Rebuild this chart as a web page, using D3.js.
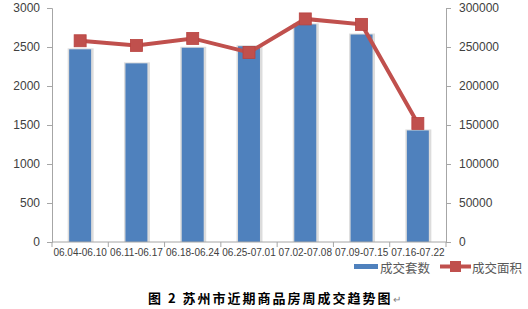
<!DOCTYPE html>
<html><head><meta charset="utf-8">
<script src="https://cdn.jsdelivr.net/npm/d3@7"></script>
<style>body{margin:0;background:#fff}svg{display:block}</style>
</head><body>
<svg id="c" width="528" height="309"></svg>
<script>
const categories = ["06.04-06.10","06.11-06.17","06.18-06.24","06.25-07.01","07.02-07.08","07.09-07.15","07.16-07.22"];
const units = [2470, 2290, 2490, 2510, 2790, 2660, 1430];      // 成交套数
const area = [258000, 252000, 261000, 243000, 286000, 279000, 152000]; // 成交面积
const leftTicks = [0,500,1000,1500,2000,2500,3000];
const rightTicks = [0,50000,100000,150000,200000,250000,300000];
const seriesNames = ["成交套数","成交面积"];
const title = "图 2 苏州市近期商品房周成交趋势图";

const svg = d3.select("#c");
const L = 52, R = 446, T = 8, B = 242;
const x = d3.scaleBand().domain(categories).range([L, R]).paddingInner(0.61).paddingOuter(0.305);
const yL = d3.scaleLinear().domain([0,3000]).range([B, T]);
const yR = d3.scaleLinear().domain([0,300000]).range([B, T]);
const axisCol = "#a6a6a6", txtCol = "#404040";
const blue = "#4f81bd", red = "#c0504d";

// bars with light shadow
svg.append("g").selectAll("rect").data(units).join("rect")
  .attr("x", (d,i)=>x(categories[i])-1.5).attr("width", x.bandwidth()+4)
  .attr("y", d=>yL(d)-1).attr("height", d=>B-yL(d)+1).attr("fill","#dcdcdc");
svg.append("g").selectAll("rect").data(units).join("rect")
  .attr("x", (d,i)=>x(categories[i])).attr("width", x.bandwidth())
  .attr("y", d=>yL(d)).attr("height", d=>B-yL(d)).attr("fill", blue);

// left axis
const gl = svg.append("g").attr("transform",`translate(${L},0)`)
  .call(d3.axisLeft(yL).tickValues(leftTicks).tickSize(5).tickPadding(7).tickFormat(d3.format("d")));
// right axis
const gr = svg.append("g").attr("transform",`translate(${R},0)`)
  .call(d3.axisRight(yR).tickValues(rightTicks).tickSize(5).tickPadding(8).tickFormat(d3.format("d")));
[gl,gr].forEach(g=>{
  g.selectAll("path,line").attr("stroke",axisCol);
  g.selectAll("text").attr("fill",txtCol).style("font-family","Liberation Sans, Arial, sans-serif").style("font-size","12px");
});
// bottom axis
const gb = svg.append("g").attr("transform",`translate(0,${B})`)
  .call(d3.axisBottom(x).tickSize(0).tickPadding(7));
gb.select("path").attr("stroke",axisCol).attr("d",`M${L},0H${R}`);
gb.selectAll("text").attr("fill",txtCol).style("font-family","Liberation Sans, Arial, sans-serif").style("font-size","10px");
const bounds = d3.range(categories.length+1).map(i=>L + i*x.step());
gb.selectAll("line.bt").data(bounds).join("line").attr("class","bt")
  .attr("x1",d=>d).attr("x2",d=>d).attr("y1",0).attr("y2",5).attr("stroke",axisCol);

// line series
const cx = (i)=>x(categories[i]) + x.bandwidth()/2;
svg.append("path").datum(area)
  .attr("d", d3.line().x((d,i)=>cx(i)).y(d=>yR(d)))
  .attr("fill","none").attr("stroke",red).attr("stroke-width",4);
svg.append("g").selectAll("rect").data(area).join("rect")
  .attr("x",(d,i)=>cx(i)-6).attr("y",d=>yR(d)-6).attr("width",12).attr("height",12)
  .attr("fill",red).attr("stroke","#b8423f").attr("stroke-width",0.8);

// legend
const lg = svg.append("g");
lg.append("rect").attr("x",354).attr("y",264).attr("width",24).attr("height",5).attr("fill",blue);
lg.append("text").attr("x",380).attr("y",273).text(seriesNames[0]);
lg.append("line").attr("x1",440).attr("x2",471).attr("y1",266.5).attr("y2",266.5).attr("stroke",red).attr("stroke-width",4);
lg.append("rect").attr("x",450).attr("y",261).attr("width",11).attr("height",11).attr("fill",red);
lg.append("text").attr("x",472).attr("y",273).text(seriesNames[1]);
lg.selectAll("text").attr("fill","#595959").style("font-family","Noto Sans CJK SC, sans-serif").style("font-size","12.5px");

// title
const t = svg.append("text").attr("x",148).attr("y",303)
  .style("font-family","Noto Sans CJK SC, sans-serif").style("font-size","13px").style("font-weight","bold")
  .style("letter-spacing","2px").attr("fill","#000");
t.append("tspan").text(title);
t.append("tspan").text("↵").attr("fill","#808080").style("font-weight","normal").style("font-size","10px").style("letter-spacing","0px");
</script>
</body></html>
